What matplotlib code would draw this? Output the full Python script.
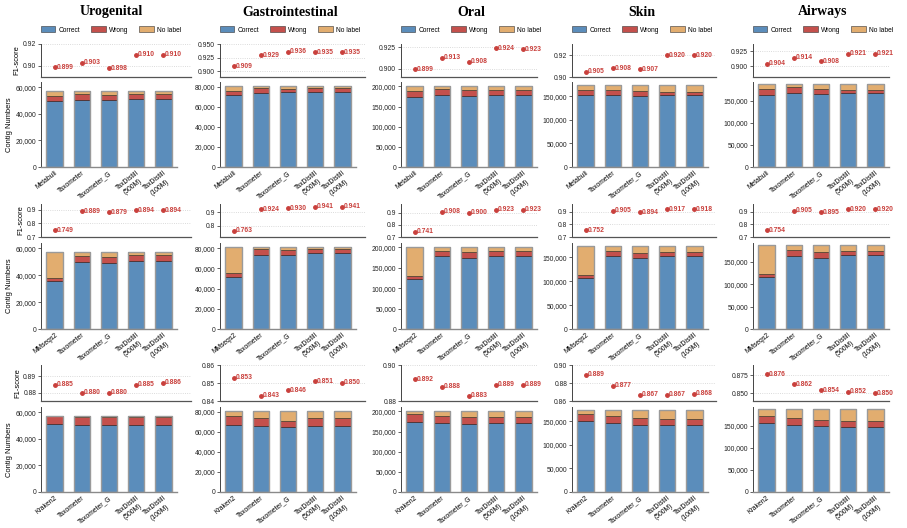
import numpy as np
import matplotlib.pyplot as plt
from matplotlib.patches import Patch
from matplotlib.ticker import FuncFormatter, MultipleLocator, FixedLocator

plt.rcParams['font.family'] = ['Liberation Sans', 'DejaVu Sans']

sites = ["Urogenital", "Gastrointestinal", "Oral", "Skin", "Airways"]
baselines = ["Metabuli", "MMseqs2", "Kraken2"]
others = ["Taxometer", "Taxometer_G", "TaxDistill\n(500M)", "TaxDistill\n(100M)"]

# F1 scores, one list per site, one block per row (baseline)
f1_row1 = [[0.899, 0.903, 0.898, 0.910, 0.910],
           [0.909, 0.929, 0.936, 0.935, 0.935],
           [0.899, 0.913, 0.908, 0.924, 0.923],
           [0.905, 0.908, 0.907, 0.920, 0.920],
           [0.904, 0.914, 0.908, 0.921, 0.921]]
f1_row2 = [[0.749, 0.889, 0.879, 0.894, 0.894],
           [0.763, 0.924, 0.930, 0.941, 0.941],
           [0.741, 0.908, 0.900, 0.923, 0.923],
           [0.752, 0.905, 0.894, 0.917, 0.918],
           [0.754, 0.905, 0.895, 0.920, 0.920]]
f1_row3 = [[0.885, 0.880, 0.880, 0.885, 0.886],
           [0.853, 0.843, 0.846, 0.851, 0.850],
           [0.892, 0.888, 0.883, 0.889, 0.889],
           [0.889, 0.877, 0.867, 0.867, 0.868],
           [0.876, 0.862, 0.854, 0.852, 0.850]]

# contig counts
correct_row1 = [[49700, 50700, 50200, 51200, 51200],
                [71700, 74300, 74700, 75000, 75000],
                [175000, 179100, 176600, 179100, 179100],
                [152700, 152700, 150400, 152700, 152700],
                [162400, 167700, 164700, 166200, 166200]]
wrong_row1 = [[3500, 4000, 3800, 3500, 3500],
              [4300, 5000, 3300, 4300, 4300],
              [12500, 15000, 14200, 12500, 12500],
              [10500, 10500, 9800, 6000, 6000],
              [14300, 12000, 12000, 8300, 8300]]
nolabel_row1 = [[4300, 2800, 3500, 2800, 2800],
                [5000, 1700, 3000, 1700, 1700],
                [13500, 6900, 10200, 9400, 9400],
                [10300, 10300, 13300, 14800, 14800],
                [9800, 6800, 9800, 12000, 12000]]

correct_row2 = [[35500, 49700, 48900, 50700, 50700],
                [51800, 73300, 72700, 75300, 75300],
                [121500, 177900, 174700, 180200, 180200],
                [107500, 152800, 148700, 153500, 153500],
                [116300, 163100, 159500, 165200, 165200]]
wrong_row2 = [[2300, 4400, 4700, 4700, 4700],
              [3200, 5400, 5100, 3500, 3500],
              [7900, 14200, 14300, 11900, 11900],
              [5400, 10800, 10800, 8100, 8100],
              [6400, 12700, 12100, 8500, 8500]]
nolabel_row2 = [[19700, 3400, 3900, 2100, 2100],
                [26000, 2300, 3200, 2200, 2200],
                [71600, 8900, 12000, 8900, 8900],
                [60600, 9900, 14000, 11900, 11900],
                [63800, 10700, 14900, 12800, 12800]]

correct_row3 = [[51000, 50200, 50200, 50800, 50800],
                [66800, 65800, 64800, 65800, 65800],
                [173900, 171500, 169900, 171500, 171500],
                [150000, 145900, 141800, 141800, 141800],
                [156600, 152200, 149300, 147900, 147900]]
wrong_row3 = [[5900, 6200, 6400, 5900, 5900],
              [9700, 8400, 6500, 8400, 8400],
              [19000, 16700, 15900, 15900, 15900],
              [15100, 14400, 14400, 12300, 12300],
              [15200, 14500, 13100, 12300, 12300]]
nolabel_row3 = [[600, 1100, 900, 800, 800],
                [4500, 6800, 9700, 6800, 6800],
                [8100, 12800, 15200, 13600, 13600],
                [8400, 13200, 17300, 19400, 19400],
                [14700, 19800, 24100, 26300, 26300]]

f1_rows = [f1_row1, f1_row2, f1_row3]
correct_rows = [correct_row1, correct_row2, correct_row3]
wrong_rows = [wrong_row1, wrong_row2, wrong_row3]
nolabel_rows = [nolabel_row1, nolabel_row2, nolabel_row3]

# F1 axis ticks (as printed) per row / site
f1_ticks = [[["0.90", "0.92"], ["0.900", "0.925", "0.950"], ["0.900", "0.925"], ["0.90", "0.92"], ["0.900", "0.925"]],
            [["0.7", "0.8", "0.9"], ["0.8", "0.9"], ["0.7", "0.8", "0.9"], ["0.7", "0.8", "0.9"], ["0.7", "0.8", "0.9"]],
            [["0.88", "0.89"], ["0.84", "0.85", "0.86"], ["0.88", "0.90"], ["0.86", "0.88", "0.90"], ["0.850", "0.875"]]]
f1_lims = [[(0.890, 0.920), (0.889, 0.950), (0.890, 0.929), (0.900, 0.930), (0.882, 0.937)],
           [(0.700, 0.940), (0.715, 0.962), (0.700, 0.970), (0.700, 0.960), (0.700, 0.960)],
           [(0.875, 0.897), (0.840, 0.860), (0.880, 0.900), (0.860, 0.900), (0.839, 0.889)]]
bar_top = [64000, 85000, 211000, 180000, 192000]
bar_step = [20000, 20000, 50000, 50000, 50000]

c_correct = "#5b8dbb"
c_wrong = "#c4504c"
c_nolabel = "#e2ad6f"
c_text = "#c9403c"

W, H = 907, 528
fig = plt.figure(figsize=(W / 100, H / 100), dpi=100)


def box(l, t, w, h):
    return [l / W, 1 - (t + h) / H, w / W, h / H]


col_left = [41, 220, 401, 572, 753]
f1_extra = [14, 9, 0, 8, 0]
bar_w = 136
f1_y = [(44, 33), (204, 33), (365, 36)]
bar_y = [(82, 85), (243, 86), (407, 85)]
fs = 4.9

x = np.arange(5)
for r in range(3):
    for c in range(5):
        left = col_left[c]
        ax_f = fig.add_axes(box(left, f1_y[r][0], bar_w + f1_extra[c], f1_y[r][1]))
        ax_b = fig.add_axes(box(left, bar_y[r][0], bar_w, bar_y[r][1]))

        # --- F1 strip
        f1 = f1_rows[r][c]
        ax_f.plot(x, f1, 'o', color=c_text, ms=2.5, ls='none', zorder=3)
        for xi, v in zip(x, f1):
            ax_f.annotate("{:.3f}".format(v), (xi, v), xytext=(1.3, 0), textcoords='offset points',
                          va='center', ha='left', color=c_text, fontsize=4.9, fontweight='bold',
                          annotation_clip=False)
        ax_f.set_xlim(-0.5, 4.5 + f1_extra[c] / 27.2)
        ax_f.set_ylim(*f1_lims[r][c])
        tl = f1_ticks[r][c]
        ax_f.yaxis.set_major_locator(FixedLocator([float(t) for t in tl]))
        ax_f.set_yticklabels(tl)
        ax_f.set_xticks([])
        ax_f.yaxis.grid(True, ls=':', color='#cfcfcf', lw=0.6)
        ax_f.set_axisbelow(True)
        for s in ['top', 'right']:
            ax_f.spines[s].set_visible(False)
        ax_f.spines['left'].set_color('#444444')
        ax_f.spines['bottom'].set_color('#555555')
        ax_f.spines['left'].set_linewidth(0.7)
        ax_f.spines['bottom'].set_linewidth(0.9)
        ax_f.tick_params(axis='y', labelsize=fs, length=2, width=0.5, pad=1.5, colors='#222222')

        # --- stacked bars
        cor = np.array(correct_rows[r][c])
        wro = np.array(wrong_rows[r][c])
        nol = np.array(nolabel_rows[r][c])
        ax_b.bar(x, cor, 0.6, color=c_correct, edgecolor='#2e3b4e', lw=0.5, zorder=2)
        ax_b.bar(x, wro, 0.6, bottom=cor, color=c_wrong, edgecolor='#3a2a2a', lw=0.5, zorder=2)
        ax_b.bar(x, nol, 0.6, bottom=cor + wro, color=c_nolabel, edgecolor='#4a3a2a', lw=0.5, zorder=2)
        ax_b.bar(x, cor + wro + nol, 0.6, fill=False, edgecolor='#9a9a9a', lw=1.0, zorder=3)
        ax_b.set_xlim(-0.5, 4.5)
        ax_b.set_ylim(0, bar_top[c])
        ax_b.yaxis.set_major_locator(MultipleLocator(bar_step[c]))
        ax_b.yaxis.set_major_formatter(FuncFormatter(lambda v, p: "{:,.0f}".format(v)))
        ax_b.set_xticks(x)
        ax_b.set_xticklabels([baselines[r]] + others, rotation=38, ha='right',
                             rotation_mode='anchor', fontsize=fs, multialignment='center')
        ax_b.tick_params(axis='x', length=0, pad=2)
        ax_b.tick_params(axis='y', labelsize=fs, length=2, width=0.5, pad=1.5, colors='#222222')
        for s in ['top', 'right']:
            ax_b.spines[s].set_visible(False)
        ax_b.spines['left'].set_color('#444444')
        ax_b.spines['left'].set_linewidth(0.7)
        ax_b.spines['bottom'].set_color('#8a8a8a')
        ax_b.spines['bottom'].set_linewidth(1.0)

        if c == 0:
            ax_f.set_ylabel("F1-score", fontsize=5.4, labelpad=1.5)
            ax_b.set_ylabel("Contig Numbers", fontsize=5.4, labelpad=1.5)

        if r == 0:
            cx = (left + bar_w / 2 + 2) / W
            fig.text(cx, 1 - 12 / H, sites[c], fontfamily='Liberation Serif', fontweight='bold',
                     fontsize=10, ha='center', va='center')
            handles = [Patch(facecolor=c_correct, edgecolor='#333333', lw=0.4),
                       Patch(facecolor=c_wrong, edgecolor='#333333', lw=0.4),
                       Patch(facecolor=c_nolabel, edgecolor='#333333', lw=0.4)]
            fig.legend(handles, ["Correct", "Wrong", "No label"], loc='center',
                       bbox_to_anchor=(cx, 1 - 30 / H), ncol=3, frameon=False, fontsize=4.8,
                       handlelength=2.2, handleheight=0.9, columnspacing=1.6, handletextpad=0.5)

fig.savefig("out.png", dpi=100)
